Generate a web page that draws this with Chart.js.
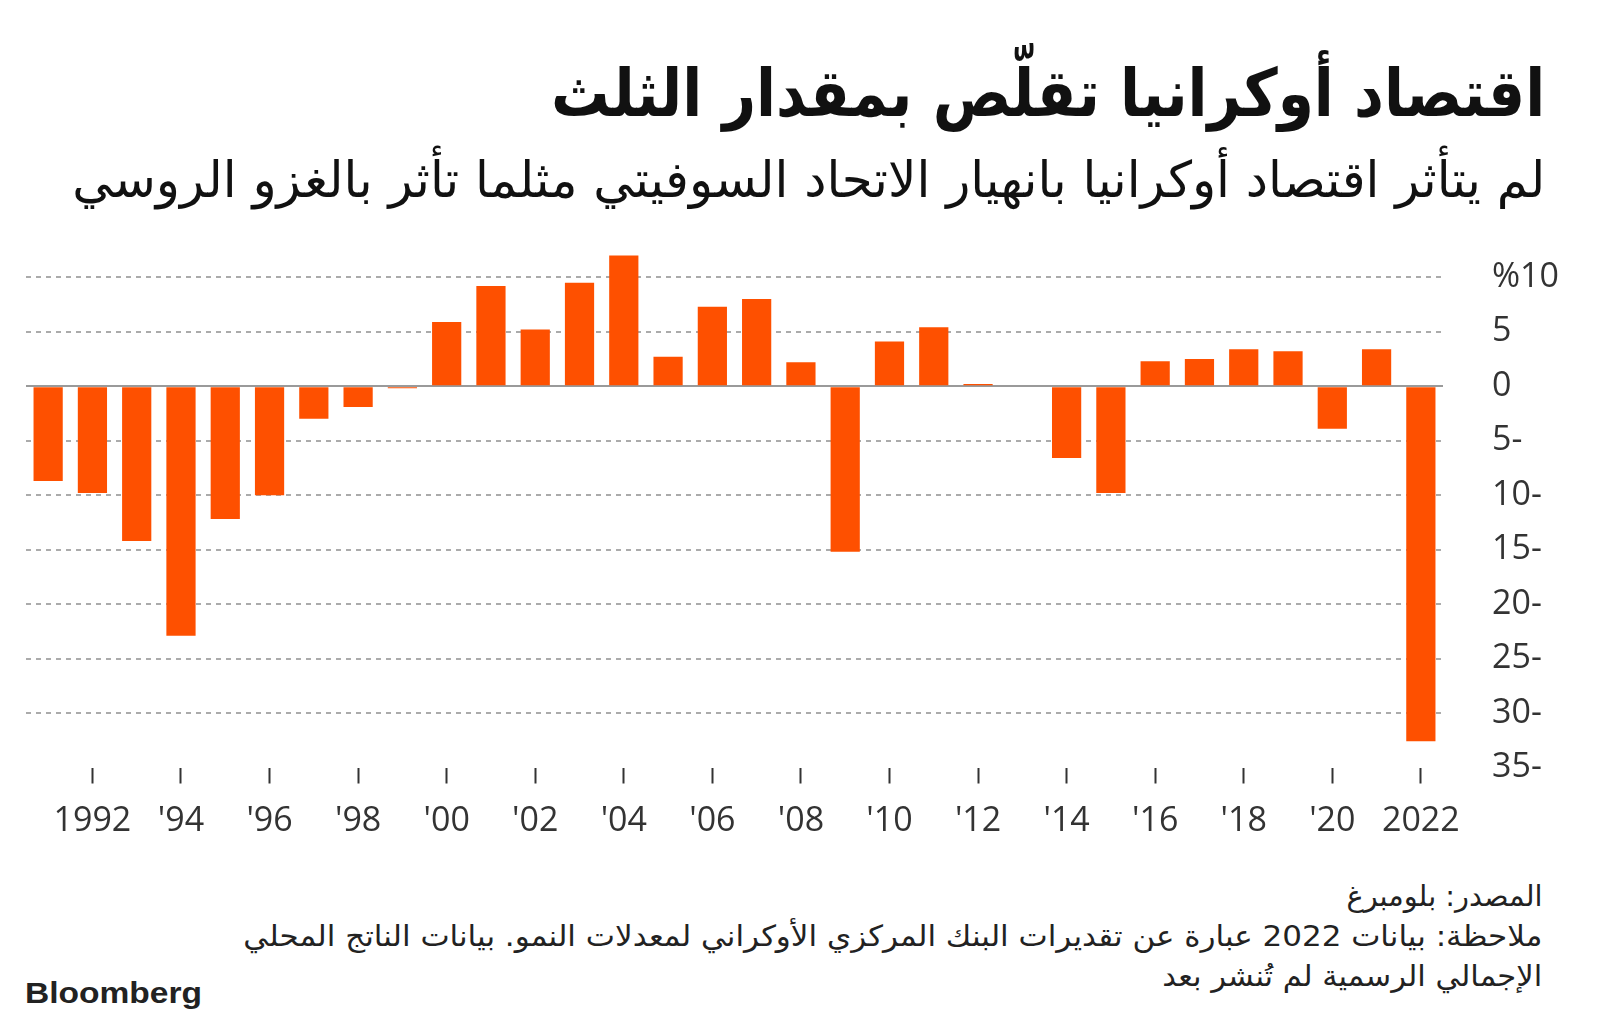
<!DOCTYPE html>
<html lang="ar">
<head>
<meta charset="utf-8">
<script src="https://cdn.jsdelivr.net/npm/chart.js"></script>
<style>
  html, body { margin: 0; padding: 0; background: #fff; }
  body { width: 1600px; height: 1030px; position: relative; overflow: hidden; }
  .txt { position: absolute; white-space: nowrap; direction: rtl; color: #111;
         font-family: 'DejaVu Sans Condensed', 'DejaVu Sans', sans-serif; line-height: 1; }
  #title { font-weight: bold; font-size: 66px; top: 61px; }
  #subtitle { font-size: 50px; top: 155px; }
  .foot { font-size: 29px; color: #222; }
  #brand { position: absolute; left: 25px; top: 978px; font-family: 'Liberation Sans', Arial, sans-serif;
           font-weight: bold; font-size: 30px; color: #222; line-height: 1; white-space: nowrap; transform-origin: left top; }
  #chartBox { position: absolute; left: 0; top: 240px; width: 1600px; height: 600px; }
</style>
</head>
<body>

<div class="txt" id="title" data-right="1545" data-width="994">اقتصاد أوكرانيا تقلّص بمقدار الثلث</div>
<div class="txt" id="subtitle" data-right="1545" data-width="1473">لم يتأثر اقتصاد أوكرانيا بانهيار الاتحاد السوفيتي مثلما تأثر بالغزو الروسي</div>

<div id="chartBox"><canvas id="gdpChart"></canvas></div>

<div class="txt foot" style="top:882px" data-right="1542" data-width="196">المصدر: بلومبرغ</div>
<div class="txt foot" style="top:922px" data-right="1542" data-width="1299">ملاحظة: بيانات 2022 عبارة عن تقديرات البنك المركزي الأوكراني لمعدلات النمو. بيانات الناتج المحلي</div>
<div class="txt foot" style="top:962px" data-right="1542" data-width="380">الإجمالي الرسمية لم تُنشر بعد</div>
<div id="brand" data-width="177">Bloomberg</div>

<script>
// Tăng trưởng GDP Ukraine theo năm (%)
const years = ['1991','1992','1993','1994','1995','1996','1997','1998','1999','2000',
    '2001','2002','2003','2004','2005','2006','2007','2008','2009','2010',
    '2011','2012','2013','2014','2015','2016','2017','2018','2019','2020','2021','2022']
const growth = [-8.7, -9.8, -14.2, -22.9, -12.2, -10.0, -3.0, -1.9, -0.2, 5.9,
    9.2, 5.2, 9.5, 12.0, 2.7, 7.3, 8.0, 2.2, -15.2, 4.1,
    5.4, 0.2, 0.0, -6.6, -9.8, 2.3, 2.5, 3.4, 3.2, -3.9, 3.4, -32.6]
const xTickLabels = ['', '1992', '', "'94", '', "'96", '', "'98", '', "'00",
    '', "'02", '', "'04", '', "'06", '', "'08", '', "'10",
    '', "'12", '', "'14", '', "'16", '', "'18", '', "'20", '', '2022']
const yTicks = [-35, -30, -25, -20, -15, -10, -5, 0, 5, 10]
const yTickLabels = ['35-', '30-', '25-', '20-', '15-', '10-', '5-', '0', '5', '%10']

// Căn chữ theo độ rộng trong ảnh gốc
document.querySelectorAll('[data-width]').forEach(el => {
    const w = el.getBoundingClientRect().width
    const sx = +el.dataset.width / w
    if (el.dataset.right) {
        el.style.left = (+el.dataset.right - w) + 'px'
        el.style.transformOrigin = 'right top'
    }
    el.style.transform = 'scaleX(' + sx + ')'
})

const barColor = '#fe5000'

new Chart(document.getElementById('gdpChart'), {
    type: 'bar',
    data: {
        labels: years,
        datasets: [{
            data: growth,
            backgroundColor: barColor,
            borderWidth: 0,
            barPercentage: 0.66,
            categoryPercentage: 1.0
        }]
    },
    options: {
        responsive: true,
        maintainAspectRatio: false,
        animation: false,
        events: [],
        layout: { padding: { top: 10, left: 26, right: 0, bottom: 0 } },
        plugins: {
            legend: { display: false },
            tooltip: { enabled: false }
        },
        scales: {
            x: {
                offset: true,
                afterFit: scale => { scale.height = 72.5 },
                grid: {
                    offset: false,
                    drawOnChartArea: false,
                    drawTicks: true,
                    tickLength: 16,
                    tickWidth: 2,
                    tickColor: ctx => xTickLabels[ctx.index] ? '#333' : 'rgba(0,0,0,0)',
                    color: 'rgba(0,0,0,0)'
                },
                border: { display: false },
                ticks: {
                    autoSkip: false,
                    maxRotation: 0,
                    padding: 17,
                    color: '#333',
                    font: { family: 'Open Sans', size: 34 },
                    callback: (value, index) => xTickLabels[index]
                }
            },
            y: {
                position: 'right',
                min: -35,
                max: 12.5,
                afterFit: scale => {
                    scale.width = 157
                    scale.paddingTop = 0
                    scale.paddingBottom = 0
                },
                afterBuildTicks: scale => { scale.ticks = yTicks.map(v => ({ value: v })) },
                grid: {
                    drawTicks: false,
                    lineWidth: 2,
                    color: ctx => {
                        if (!ctx.tick || ctx.tick.value === -35) return 'rgba(0,0,0,0)'
                        return ctx.tick.value === 0 ? '#9a9a9a' : '#ababab'
                    }
                },
                border: {
                    display: false,
                    dash: ctx => (ctx.tick && ctx.tick.value === 0) ? [] : [5, 5]
                },
                ticks: {
                    padding: 49,
                    color: '#333',
                    font: { family: 'Open Sans', size: 34 },
                    callback: value => yTickLabels[yTicks.indexOf(value)]
                }
            }
        }
    }
})
</script>
</body>
</html>
